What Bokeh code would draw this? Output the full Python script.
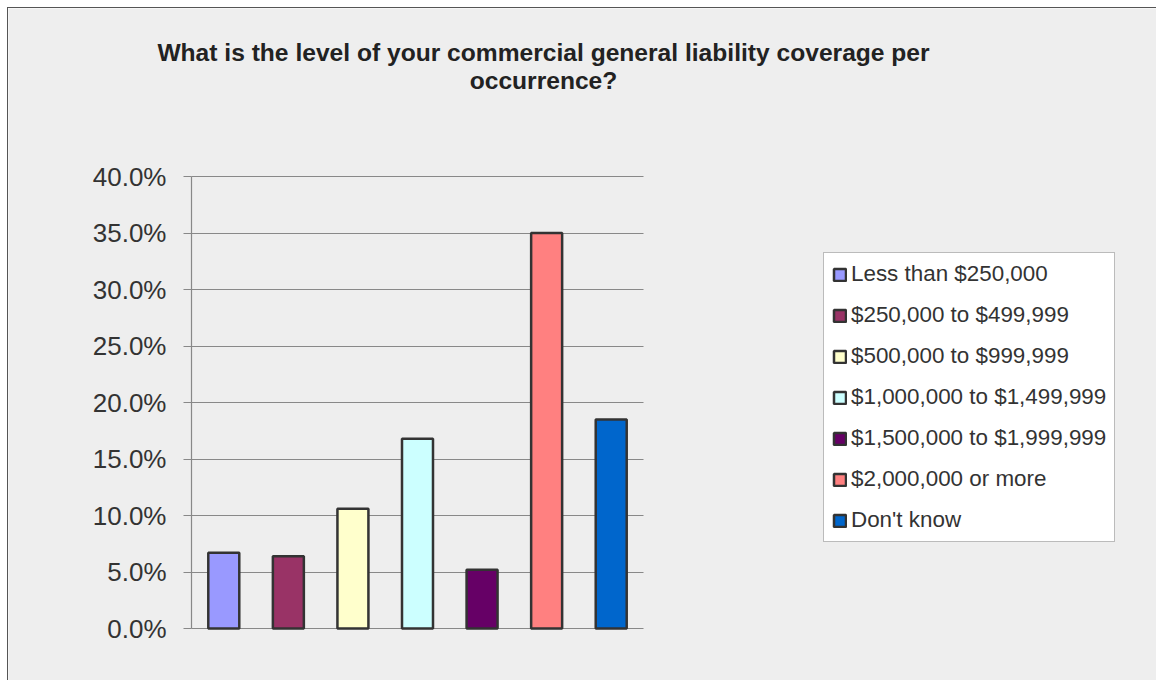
from bokeh.plotting import figure
from bokeh.models import (Range1d, FixedTicker, NumeralTickFormatter,
                          Legend, LegendItem, Label, ColumnDataSource)
from bokeh.embed import file_html
from bokeh.resources import INLINE

# ---- data ----
categories = ["Less than $250,000", "$250,000 to $499,999", "$500,000 to $999,999",
              "$1,000,000 to $1,499,999", "$1,500,000 to $1,999,999",
              "$2,000,000 or more", "Don't know"]
shares = [0.067, 0.064, 0.106, 0.168, 0.052, 0.350, 0.185]
colors = ["#9999FF", "#993366", "#FFFFCC", "#CCFFFF", "#660066", "#FF8080", "#0066CC"]
y_ticks = [0.0, 0.05, 0.10, 0.15, 0.20, 0.25, 0.30, 0.35, 0.40]
title_lines = ["What is the level of your commercial general liability coverage per",
               "occurrence?"]

BG = "#EEEEEE"
FONT = "Liberation Sans"

# geometry (pixels inside the figure canvas); the frame fills the whole canvas
W, H = 1149, 673
PLOT_LEFT = 183                    # where the value axis sits
PLOT_BOTTOM = 53                   # distance of the zero line above the canvas bottom
PLOT_W, PLOT_H = 452, 452          # the visible plot area (bars + grid)
n = len(categories)
y_max = y_ticks[-1]

x_start = -n * PLOT_LEFT / PLOT_W
x_end = n * (W - PLOT_LEFT) / PLOT_W
y_start = -y_max * PLOT_BOTTOM / PLOT_H
y_end = y_max * (H - PLOT_BOTTOM) / PLOT_H

p = figure(x_range=Range1d(x_start, x_end), y_range=Range1d(y_start, y_end),
           width=W, height=H,
           min_border_left=0, min_border_right=0,
           min_border_top=0, min_border_bottom=0,
           output_backend="svg", toolbar_location=None,
           background_fill_color=BG, border_fill_color=BG,
           margin=(7, 0, 0, 7),
           styles={"border-top": "1px solid #555555", "border-left": "1px solid #555555"})
p.outline_line_color = None

xpos = [i + 0.5 for i in range(n)]
src = ColumnDataSource(dict(x=xpos, cat=categories, val=shares, col=colors))
r = p.vbar(x="x", top="val", width=0.48, source=src, fill_color="col",
           line_color="#333333", line_width=2.5)

p.xaxis.visible = False
p.xgrid.grid_line_color = None
p.ygrid.grid_line_color = "#888888"
p.ygrid.grid_line_width = 1.2
p.ygrid.ticker = FixedTicker(ticks=y_ticks)
p.ygrid.cross_bounds = (0, n)

ya = p.yaxis[0]
ya.fixed_location = 0
ya.ticker = FixedTicker(ticks=y_ticks)
ya.bounds = (0, y_max)
ya.formatter = NumeralTickFormatter(format="0.0%")
ya.axis_line_color = "#888888"
ya.axis_line_width = 1.2
ya.major_tick_line_color = "#888888"
ya.major_tick_line_width = 1.2
ya.major_tick_out = 8
ya.major_tick_in = 0
ya.minor_tick_line_color = None
ya.major_label_text_font = FONT
ya.major_label_text_font_size = "26px"
ya.major_label_text_color = "#333333"
ya.major_label_standoff = 17

items = [LegendItem(label=c, renderers=[r], index=i) for i, c in enumerate(categories)]
legend = Legend(items=items, location=(815, 139),
                label_text_font=FONT, label_text_font_size="22.4px",
                label_text_color="#333333",
                glyph_width=15, glyph_height=15, label_height=26,
                label_standoff=4, spacing=15, padding=8, margin=0,
                border_line_color="#777777", border_line_width=1,
                background_fill_color="white", background_fill_alpha=1.0)
p.add_layout(legend, "center")

for line, ybase in zip(title_lines, [629, 601]):
    p.add_layout(Label(x=535, y=ybase, x_units="screen", y_units="screen", text=line,
                       text_align="center", text_baseline="alphabetic",
                       text_font=FONT, text_font_size="24.6px", text_font_style="bold",
                       text_color="#222222"))

open("out.html", "w").write(file_html(p, INLINE))
